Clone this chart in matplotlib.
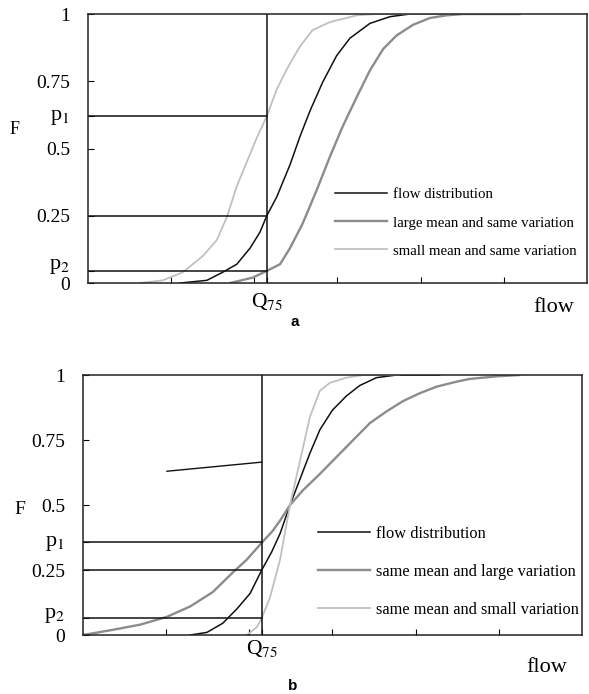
import matplotlib
matplotlib.use("Agg")
import matplotlib.pyplot as plt
import matplotlib.transforms as mtransforms

plt.rcParams['font.family'] = ['Liberation Serif', 'DejaVu Serif']
plt.rcParams['mathtext.fontset'] = 'stix'

# panel a: cumulative distributions (flow units 0..6)
a_flow_x = [1.11, 1.43, 1.62, 1.79, 1.95, 2.07, 2.15, 2.27, 2.43, 2.55, 2.67, 2.82, 2.99, 3.15,
            3.39, 3.63, 3.87, 4.23]
a_flow_F = [0.0, 0.01, 0.04, 0.07, 0.13, 0.19, 0.25, 0.32, 0.44, 0.545, 0.64, 0.745, 0.845, 0.91,
            0.965, 0.99, 1.0, 1.0]
a_large_x = [1.71, 1.98, 2.15, 2.31, 2.43, 2.58, 2.75, 2.91, 3.06, 3.23, 3.39, 3.55, 3.71, 3.91,
             4.11, 4.31, 4.51, 5.19]
a_large_F = [0.0, 0.02, 0.045, 0.07, 0.13, 0.22, 0.345, 0.47, 0.58, 0.69, 0.79, 0.87, 0.92, 0.96,
             0.985, 0.995, 1.0, 1.0]
a_small_x = [0.625, 0.90, 1.14, 1.38, 1.55, 1.67, 1.79, 1.91, 2.03, 2.15, 2.27, 2.40, 2.55, 2.70,
             2.91, 3.23, 3.47, 4.35]
a_small_F = [0.0, 0.01, 0.04, 0.10, 0.16, 0.245, 0.36, 0.45, 0.54, 0.62, 0.72, 0.80, 0.88, 0.94,
             0.97, 0.995, 1.0, 1.0]
a_p1, a_p2 = 0.62, 0.045

# panel b
b_flow_x = [1.29, 1.49, 1.68, 1.85, 2.01, 2.15, 2.27, 2.37, 2.49, 2.61, 2.73, 2.85, 3.00, 3.17,
            3.33, 3.53, 3.77, 4.29]
b_flow_F = [0.0, 0.01, 0.045, 0.10, 0.16, 0.25, 0.32, 0.39, 0.5, 0.60, 0.70, 0.79, 0.865, 0.92,
            0.96, 0.99, 1.0, 1.0]
b_large_x = [0.0, 0.36, 0.69, 1.01, 1.29, 1.56, 1.80, 1.97, 2.15, 2.28, 2.37, 2.49, 2.64, 2.85,
             3.05, 3.25, 3.45, 3.65, 3.85, 4.05, 4.25, 4.50, 4.65, 4.98, 5.25]
b_large_F = [0.0, 0.02, 0.04, 0.07, 0.11, 0.165, 0.24, 0.29, 0.355, 0.40, 0.44, 0.5, 0.555, 0.62,
             0.685, 0.75, 0.815, 0.86, 0.90, 0.93, 0.955, 0.975, 0.985, 0.995, 1.0]
b_small_x = [1.97, 2.09, 2.15, 2.25, 2.37, 2.49, 2.61, 2.73, 2.85, 2.97, 3.17, 3.37, 3.81]
b_small_F = [0.0, 0.03, 0.065, 0.145, 0.29, 0.5, 0.67, 0.84, 0.94, 0.97, 0.99, 1.0, 1.0]
b_p1, b_p2 = 0.358, 0.065
b_note_x = [1.01, 2.15]
b_note_F = [0.63, 0.665]

q75 = 2.15
xticks = [1, 2, 3, 4, 5]

fig = plt.figure(figsize=(5.89, 6.94), dpi=100)
ax1 = fig.add_axes([0.1494, 0.5922, 0.847, 0.3876])
ax2 = fig.add_axes([0.1409, 0.085, 0.847, 0.3746])


def draw(ax, fx, fF, lx, lF, sx, sF, p1, p2, labels, q_pad, p_offsets):
    ax.plot(fx, fF, color='#111111', lw=1.1, label=labels[0])
    ax.plot(lx, lF, color='#8c8c8c', lw=1.7, label=labels[1])
    ax.plot(sx, sF, color='#c0c0c0', lw=1.3, label=labels[2])
    for v in (p1, 0.25, p2):
        ax.plot([0, q75], [v, v], color='#111111', lw=1.1)
    ax.axvline(q75, color='#111111', lw=1.1)
    ax.set_xlim(0, 6)
    ax.set_ylim(0, 1)
    ax.set_yticks([0, p2, 0.25, 0.5, p1, 0.75, 1])
    ax.set_yticklabels(['0', '', '0.25', '0.5', '', '0.75', '1'], fontsize=14)
    ax.tick_params(axis='y', direction='in', length=4, pad=13)
    # p1 / p2 labels sit beside their horizontal lines
    trans = mtransforms.blended_transform_factory(ax.transAxes, ax.transData)
    for v, name, dy in ((p1, 'p$_1$', p_offsets[0]), (p2, 'p$_2$', p_offsets[1])):
        ax.annotate(name, xy=(0, v), xycoords=trans, xytext=(-13, dy),
                    textcoords='offset points', ha='right', va='center', fontsize=16)
    ax.set_xticks(xticks + [q75])
    ax.set_xticklabels([''] * len(xticks) + ['Q$_{75}$'], fontsize=15.5)
    ax.tick_params(axis='x', direction='in', length=4, pad=q_pad)
    for s in ax.spines.values():
        s.set_linewidth(1.1)
        s.set_color('#222222')


draw(ax1, a_flow_x, a_flow_F, a_large_x, a_large_F, a_small_x, a_small_F, a_p1, a_p2,
     ['flow distribution', 'large mean and same variation', 'small mean and same variation'],
     6, (-1, 3))
ax1.legend(loc='upper left', bbox_to_anchor=(0.495, 0.353), frameon=False, fontsize=10.7,
           handlelength=3.5, handletextpad=0.4, labelspacing=0.99, borderpad=0, borderaxespad=0)

draw(ax2, b_flow_x, b_flow_F, b_large_x, b_large_F, b_small_x, b_small_F, b_p1, b_p2,
     ['flow distribution', 'same mean and large variation', 'same mean and small variation'],
     2, (-1, 2))
ax2.plot(b_note_x, b_note_F, color='#111111', lw=1.0)
ax2.legend(loc='upper left', bbox_to_anchor=(0.471, 0.419), frameon=False, fontsize=11.8,
           handlelength=3.17, handletextpad=0.37, labelspacing=1.33, borderpad=0, borderaxespad=0)

fig.text(15 / 589, 1 - 130 / 694, 'F', fontsize=13, ha='center', va='center')
fig.text(20 / 589, 1 - 510 / 694, 'F', fontsize=14, ha='center', va='center')
fig.text(554 / 589, 1 - 307 / 694, 'flow', fontsize=16, ha='center', va='center')
fig.text(547 / 589, 1 - 668 / 694, 'flow', fontsize=16, ha='center', va='center')
fig.text(295 / 589, 1 - 322 / 694, 'a', fontsize=11, ha='center', va='center',
         family='Liberation Sans', weight='bold')
fig.text(293 / 589, 1 - 686 / 694, 'b', fontsize=11, ha='center', va='center',
         family='Liberation Sans', weight='bold')

fig.savefig('out.png', dpi=100)
